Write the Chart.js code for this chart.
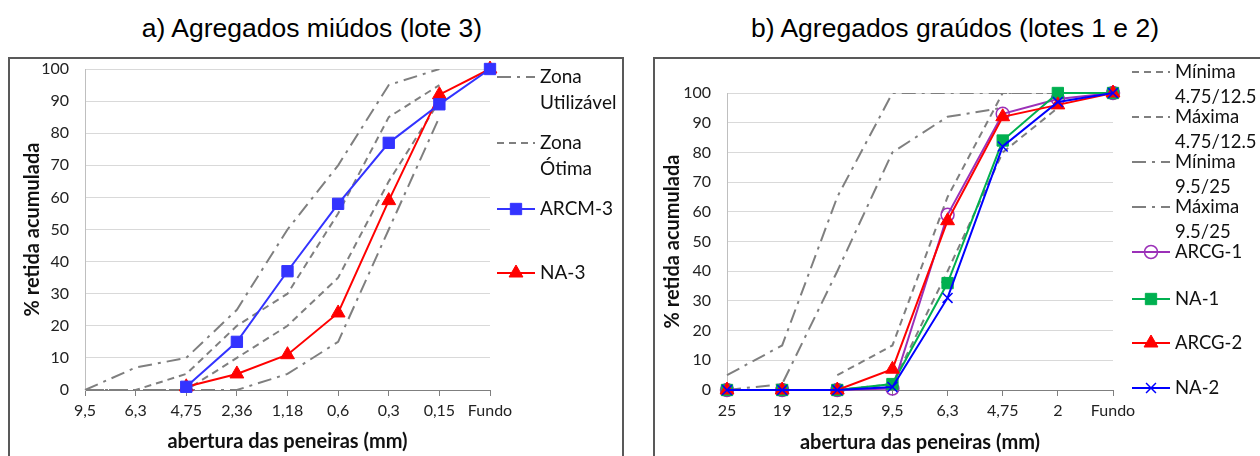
<!DOCTYPE html>
<html>
<head>
<meta charset="utf-8">
<script src="https://cdn.jsdelivr.net/npm/chart.js@4.4.0/dist/chart.umd.min.js"></script>
<style>
  body { margin: 0; background: #fff; width: 1260px; height: 456px; overflow: hidden; position: relative; }
  .title { position: absolute; top: 15px; font-family: 'Liberation Sans', Arial, sans-serif; font-size: 26.5px; line-height: 26px; white-space: nowrap; transform: translateX(-50%); color: #000; }
  .box { position: absolute; top: 57px; height: 420px; border: 2px solid #595959; box-sizing: border-box; }
  canvas { position: absolute; }
</style>
</head>
<body>
<div class="title" style="left:312px">a) Agregados miúdos (lote 3)</div>
<div class="title" style="left:955px">b) Agregados graúdos (lotes 1 e 2)</div>
<div class="box" style="left:8px;width:616px"></div>
<div class="box" style="left:653px;width:620px"></div>
<canvas id="fineChart" width="611" height="413" style="left:10px;top:43px;width:611px;height:413px"></canvas>
<canvas id="coarseChart" width="605" height="397" style="left:655px;top:59px;width:605px;height:397px"></canvas>
<script>
// a) fine aggregate (lote 3)
const fineSieves = ['9,5', '6,3', '4,75', '2,36', '1,18', '0,6', '0,3', '0,15', 'Fundo'];
const usableLow = [0, 0, 0, 0, 5, 15, 50, 85, null];
const usableHigh = [0, 7, 10, 25, 50, 70, 95, 100, null];
const optimalLow = [0, 0, 0, 10, 20, 35, 65, 90, null];
const optimalHigh = [0, 0, 5, 20, 30, 55, 85, 95, null];
const arcm3 = [null, null, 1, 15, 37, 58, 77, 89, 100];
const na3 = [null, null, 1, 5, 11, 24, 59, 92, 100];

// b) coarse aggregate (lotes 1 e 2)
const coarseSieves = ['25', '19', '12,5', '9,5', '6,3', '4,75', '2', 'Fundo'];
const min475 = [null, null, 0, 2, 40, 80, 95, null];
const max475 = [null, null, 5, 15, 65, 100, 100, null];
const min95 = [0, 2, 40, 80, 92, 95, null, null];
const max95 = [5, 15, 65, 100, 100, 100, 100, null];
const arcg1 = [0, 0, 0, 0.5, 59, 93, 98, 100];
const na1 = [0, 0, 0, 2, 36, 84, 100, 100];
const arcg2 = [0, 0, 0, 7, 57, 92, 96, 100];
const na2 = [0, 0, 0, 1, 31, 82, 97, 100];

const yTicks = { min: 0, max: 100, step: 10 };

const FONT = 'Lato, "Open Sans", sans-serif';
const GRAY = '#7f7f7f';
const DASH = [7, 5];
const DASHDOT = [14, 6, 3, 6];

function limitLine(label, data, dash) {
    return { label, data, borderColor: GRAY, backgroundColor: GRAY, borderWidth: 2, borderDash: dash,
        pointRadius: 0, pointHoverRadius: 0, tension: 0, order: 2 };
}

function seriesLine(label, data, color, style, radius, fill) {
    return { label, data, borderColor: color, backgroundColor: fill || color, borderWidth: 2,
        pointStyle: style, pointRadius: radius, pointBorderWidth: style === 'circle' || style === 'crossRot' ? 1.5 : 1,
        pointBorderColor: color, pointBackgroundColor: fill || color, tension: 0, order: 1, clip: false };
}

// legend drawn by hand so the labels can wrap like the original
const sideLegend = {
    id: 'sideLegend',
    afterDraw(chart, args, opts) {
        const ctx = chart.ctx;
        ctx.save();
        opts.items.forEach(item => {
            const ds = chart.data.datasets[item.dataset];
            const y = item.y;
            ctx.strokeStyle = ds.borderColor;
            ctx.lineWidth = ds.borderWidth;
            ctx.setLineDash(ds.borderDash || []);
            ctx.beginPath();
            ctx.moveTo(opts.x1, y);
            ctx.lineTo(opts.x2, y);
            ctx.stroke();
            ctx.setLineDash([]);
            if (ds.pointRadius) {
                ctx.fillStyle = ds.pointBackgroundColor;
                ctx.strokeStyle = ds.pointBorderColor;
                ctx.lineWidth = ds.pointBorderWidth;
                Chart.helpers.drawPoint(ctx, { pointStyle: ds.pointStyle, radius: ds.pointRadius,
                    borderWidth: ds.pointBorderWidth, rotation: 0 }, (opts.x1 + opts.x2) / 2, y);
            }
            ctx.fillStyle = '#111';
            ctx.font = opts.font;
            ctx.textBaseline = 'middle';
            ctx.textAlign = 'left';
            item.text.forEach((t, i) => ctx.fillText(t, opts.x2 + 5, y + i * opts.lineH));
        });
        ctx.restore();
    }
};

function buildOptions(cfg) {
    return {
        responsive: false,
        animation: false,
        layout: { padding: { left: 0, right: cfg.padRight, top: cfg.padTop, bottom: 0 } },
        plugins: {
            legend: { display: false },
            tooltip: { enabled: false },
            sideLegend: cfg.legend
        },
        scales: {
            x: {
                type: 'category',
                offset: false,
                afterFit: s => { s.height = 66; },
                grid: { display: true, drawOnChartArea: false, drawTicks: true, tickLength: 6, color: GRAY, lineWidth: 1 },
                border: { display: true, color: GRAY, width: 1 },
                ticks: { color: '#222', font: { family: FONT, size: 16 }, padding: 5, maxRotation: 0, autoSkip: false },
                title: { display: true, text: 'abertura das peneiras (mm)', color: '#111',
                    font: { family: FONT, size: 20, weight: 'bold' }, padding: { top: 0, bottom: cfg.xTitlePad } }
            },
            y: {
                min: yTicks.min,
                max: yTicks.max,
                afterFit: s => { s.width = cfg.yWidth; },
                grid: { color: '#d9d9d9', lineWidth: 1, drawTicks: false },
                border: { display: true, color: '#bfbfbf', width: 1 },
                ticks: { stepSize: yTicks.step, color: '#222', font: { family: FONT, size: 16 }, padding: 16 },
                title: { display: true, text: '% retida acumulada', color: '#111',
                    font: { family: FONT, size: 20, weight: 'bold' }, padding: { top: cfg.yTitlePad, bottom: 0 } }
            }
        }
    };
}

function initCharts() {
    new Chart(document.getElementById('fineChart').getContext('2d'), {
        type: 'line',
        data: {
            labels: fineSieves,
            datasets: [
                seriesLine('ARCM-3', arcm3, '#3333ff', 'rect', 8),
                seriesLine('NA-3', na3, '#ff0000', 'triangle', 8),
                limitLine('Zona Utilizável', usableLow, DASHDOT),
                limitLine('Zona Utilizável', usableHigh, DASHDOT),
                limitLine('Zona Ótima', optimalLow, DASH),
                limitLine('Zona Ótima', optimalHigh, DASH)
            ]
        },
        options: buildOptions({
            padRight: 131, padTop: 26, yWidth: 75, yTitlePad: 11, xTitlePad: 2,
            legend: {
                x1: 487, x2: 525, lineH: 26, font: '19px ' + FONT,
                items: [
                    { dataset: 2, y: 34, text: ['Zona', 'Utilizável'] },
                    { dataset: 4, y: 100, text: ['Zona', 'Ótima'] },
                    { dataset: 0, y: 166, text: ['ARCM-3'] },
                    { dataset: 1, y: 230, text: ['NA-3'] }
                ]
            }
        }),
        plugins: [sideLegend]
    });

    new Chart(document.getElementById('coarseChart').getContext('2d'), {
        type: 'line',
        data: {
            labels: coarseSieves,
            datasets: [
                seriesLine('NA-2', na2, '#0000ff', 'crossRot', 7),
                seriesLine('ARCG-2', arcg2, '#ff0000', 'triangle', 8),
                seriesLine('NA-1', na1, '#00b050', 'rect', 8),
                seriesLine('ARCG-1', arcg1, '#9b30b8', 'circle', 6.5, 'rgba(255,255,255,0)'),
                limitLine('Mínima 4.75/12.5', min475, DASH),
                limitLine('Máxima 4.75/12.5', max475, DASH),
                limitLine('Mínima 9.5/25', min95, DASHDOT),
                limitLine('Máxima 9.5/25', max95, DASHDOT)
            ]
        },
        options: buildOptions({
            padRight: 147, padTop: 34, yWidth: 72, yTitlePad: 6, xTitlePad: 1,
            legend: {
                x1: 477, x2: 515, lineH: 25, font: '18.5px ' + FONT,
                items: [
                    { dataset: 4, y: 13, text: ['Mínima', '4.75/12.5'] },
                    { dataset: 5, y: 58, text: ['Máxima', '4.75/12.5'] },
                    { dataset: 6, y: 103, text: ['Mínima', '9.5/25'] },
                    { dataset: 7, y: 148, text: ['Máxima', '9.5/25'] },
                    { dataset: 3, y: 193, text: ['ARCG-1'] },
                    { dataset: 2, y: 240, text: ['NA-1'] },
                    { dataset: 1, y: 284, text: ['ARCG-2'] },
                    { dataset: 0, y: 329, text: ['NA-2'] }
                ]
            }
        }),
        plugins: [sideLegend]
    });
}

document.addEventListener('DOMContentLoaded', initCharts);
</script>
</body>
</html>
